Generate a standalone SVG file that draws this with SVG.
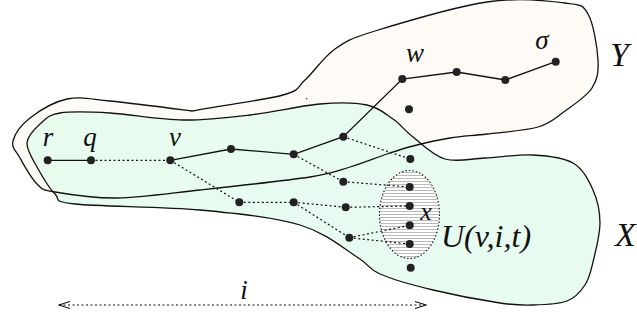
<svg xmlns="http://www.w3.org/2000/svg" width="637" height="320" viewBox="0 0 637 320">
<style>
.blob{stroke:#111;stroke-width:1.3;fill:none}
.solid{stroke:#111;stroke-width:1.3;fill:none}
.dot{stroke:#111;stroke-width:1.2;fill:none;stroke-dasharray:2 2.5}
.node{fill:#222;stroke:none}
.lab{font-family:"Liberation Serif","Times New Roman",serif;font-style:italic;fill:#111}
</style>
<defs>
<pattern id="hatch" patternUnits="userSpaceOnUse" width="6" height="3">
<rect width="6" height="3" fill="#fff"/>
<line x1="0" y1="1.5" x2="6" y2="1.5" stroke="#a8a8a8" stroke-width="0.8"/>
</pattern>
<marker id="open" viewBox="0 0 12 8" refX="11" refY="4" markerWidth="12" markerHeight="8" markerUnits="userSpaceOnUse" orient="auto-start-reverse">
<polyline points="0,0.5 11,4 0,7.5" fill="none" stroke="#111" stroke-width="1.1"/>
</marker>
</defs>
<g id="region-Y">
<path d="M13,141 C14.7,134.3 21,125 30,118 S53.7,101.8 67,99 S89.2,99 110,101 C130.8,103 165,107.5 192,111 C217,106 264.2,100.2 283,95 S296.3,87.7 305,80 S323.3,57.2 335,49 S349.7,38.8 375,31 S455.3,6.7 487,2 S548.2,1 565,3 S582.5,4.5 588,14 S597.3,47.7 598,60 S597.5,79.5 592,88 S574,104.5 565,111 S551,123.2 538,127 S501.7,132.2 487,134 S462.3,136 450,138 S423.5,143.3 413,146 S397.5,150.5 387,154 S362.8,163.2 350,167 S335,173.2 310,177 S232.2,186.5 200,190 S141.2,197.7 117,198 S68.3,194.3 55,192 S42.8,189.7 37,184 S24,165.2 20,158 S11.3,147.7 13,141 Z" fill="#fefaf6" stroke="none"/>
</g>
<g id="region-X">
<path d="M27,143 C27.5,135.8 34.5,129 40,124 S48.3,114.8 60,113 S89.5,111.8 110,113 S159.7,119.7 183,120 S227.2,117.7 250,115 S300.5,105.7 320,104 S354.8,102.5 367,105 S385.3,113.7 393,119 S404.3,130.3 413,137 S433,155.5 445,159 S470.3,158.7 485,158 S518.3,154.2 533,155 S563,157.2 573,163 S588.5,180 593,190 S600,211 600,223 S595.5,251.7 593,262 S589.3,278.5 585,285 S575.7,297.7 567,301 S544.2,304.7 533,305 S516.7,305.5 500,303 S453,294.8 433,290 S392.7,279.5 380,274 S370.3,265.2 357,257 S326.2,232.8 300,225 S237.5,213.5 200,210 S99.2,206.7 75,204 S61.3,200.2 55,194 S41.7,175.5 37,167 S26.5,150.2 27,143 Z" fill="#e6fbee" fill-opacity="0.9" stroke="none"/>
</g>
<g id="outlines">
<path class="blob" d="M13,141 C14.7,134.3 21,125 30,118 S53.7,101.8 67,99 S89.2,99 110,101 C130.8,103 165,107.5 192,111 C217,106 264.2,100.2 283,95 S296.3,87.7 305,80 S323.3,57.2 335,49 S349.7,38.8 375,31 S455.3,6.7 487,2 S548.2,1 565,3 S582.5,4.5 588,14 S597.3,47.7 598,60 S597.5,79.5 592,88 S574,104.5 565,111 S551,123.2 538,127 S501.7,132.2 487,134 S462.3,136 450,138 S423.5,143.3 413,146 S397.5,150.5 387,154 S362.8,163.2 350,167 S335,173.2 310,177 S232.2,186.5 200,190 S141.2,197.7 117,198 S68.3,194.3 55,192 S42.8,189.7 37,184 S24,165.2 20,158 S11.3,147.7 13,141 Z"/>
<path class="blob" d="M27,143 C27.5,135.8 34.5,129 40,124 S48.3,114.8 60,113 S89.5,111.8 110,113 S159.7,119.7 183,120 S227.2,117.7 250,115 S300.5,105.7 320,104 S354.8,102.5 367,105 S385.3,113.7 393,119 S404.3,130.3 413,137 S433,155.5 445,159 S470.3,158.7 485,158 S518.3,154.2 533,155 S563,157.2 573,163 S588.5,180 593,190 S600,211 600,223 S595.5,251.7 593,262 S589.3,278.5 585,285 S575.7,297.7 567,301 S544.2,304.7 533,305 S516.7,305.5 500,303 S453,294.8 433,290 S392.7,279.5 380,274 S370.3,265.2 357,257 S326.2,232.8 300,225 S237.5,213.5 200,210 S99.2,206.7 75,204 S61.3,200.2 55,194 S41.7,175.5 37,167 S26.5,150.2 27,143 Z"/>
<circle cx="306.7" cy="98.7" r="0.8" fill="#333"/>
</g>
<g id="set-U">
<ellipse cx="409.5" cy="214.5" rx="30" ry="44" fill="url(#hatch)" stroke="#111" stroke-width="1.1" stroke-dasharray="1.5 2"/>
<text class="lab" x="441" y="247" font-size="32">U(v,i,t)</text>
</g>
<g id="connectors">
<line class="solid" x1="47.7" y1="160.3" x2="91" y2="160.3"/>
<line class="dot" x1="91" y1="160.3" x2="170.3" y2="160.3"/>
<polyline class="solid" points="170.3,160.3 231,149 293.7,154.3 343.3,136.7 402.3,79 456.7,72 505.3,80 555.7,61.7"/>
<line class="dot" x1="170.3" y1="160.3" x2="239.3" y2="202.3"/>
<line class="dot" x1="239.3" y1="202.3" x2="293.7" y2="202.3"/>
<line class="dot" x1="343.3" y1="136.7" x2="410.3" y2="159"/>
<line class="dot" x1="293.7" y1="154.3" x2="343.3" y2="181.7"/>
<line class="dot" x1="343.3" y1="181.7" x2="409.7" y2="187"/>
<line class="dot" x1="293.7" y1="202.3" x2="345.7" y2="207.3"/>
<line class="dot" x1="293.7" y1="202.3" x2="349.3" y2="237.7"/>
<line class="dot" x1="345.7" y1="207.3" x2="409.7" y2="206"/>
<line class="dot" x1="349.3" y1="237.7" x2="409.7" y2="225.3"/>
<line class="dot" x1="349.3" y1="237.7" x2="409.7" y2="244"/>
<line class="dot" x1="59" y1="305" x2="426" y2="305" marker-start="url(#open)" marker-end="url(#open)"/>
<text class="lab" x="244" y="299" font-size="27" text-anchor="middle">i</text>
</g>
<g id="node-r"><circle class="node" cx="47.7" cy="160.3" r="4"/><text class="lab" x="48" y="146" font-size="27" text-anchor="middle">r</text></g>
<g id="node-q"><circle class="node" cx="91" cy="160.3" r="4"/><text class="lab" x="90" y="146" font-size="27" text-anchor="middle">q</text></g>
<g id="node-v"><circle class="node" cx="170.3" cy="160.3" r="4"/><text class="lab" x="175" y="146" font-size="27" text-anchor="middle">v</text></g>
<g id="node-a1"><circle class="node" cx="231" cy="149" r="4"/></g>
<g id="node-a2"><circle class="node" cx="293.7" cy="154.3" r="4"/></g>
<g id="node-a3"><circle class="node" cx="343.3" cy="136.7" r="4"/></g>
<g id="node-w"><circle class="node" cx="402.3" cy="79" r="4"/><text class="lab" x="415" y="62" font-size="27" text-anchor="middle">w</text></g>
<g id="node-b1"><circle class="node" cx="456.7" cy="72" r="4"/></g>
<g id="node-b2"><circle class="node" cx="505.3" cy="80" r="4"/></g>
<g id="node-sigma"><circle class="node" cx="555.7" cy="61.7" r="4"/><text class="lab" x="542" y="49" font-size="27" text-anchor="middle">σ</text></g>
<g id="node-c"><circle class="node" cx="409" cy="109.3" r="4"/></g>
<g id="node-d1"><circle class="node" cx="410.3" cy="159" r="4"/></g>
<g id="node-d2"><circle class="node" cx="343.3" cy="181.7" r="4"/></g>
<g id="node-e1"><circle class="node" cx="239.3" cy="202.3" r="4"/></g>
<g id="node-e2"><circle class="node" cx="293.7" cy="202.3" r="4"/></g>
<g id="node-e3"><circle class="node" cx="345.7" cy="207.3" r="4"/></g>
<g id="node-e4"><circle class="node" cx="349.3" cy="237.7" r="4"/></g>
<g id="node-u1"><circle class="node" cx="409.7" cy="187" r="4"/></g>
<g id="node-u2"><circle class="node" cx="409.7" cy="206" r="4"/></g>
<g id="node-x"><circle class="node" cx="409.7" cy="225.3" r="4"/><text class="lab" x="426" y="220" font-size="26" text-anchor="middle">x</text></g>
<g id="node-u4"><circle class="node" cx="409.7" cy="244" r="4"/></g>
<g id="node-f"><circle class="node" cx="410.7" cy="267.7" r="4"/></g>
<g id="label-Y"><text class="lab" x="610" y="66" font-size="34">Y</text></g>
<g id="label-X"><text class="lab" x="615" y="246" font-size="34">X</text></g>
</svg>
